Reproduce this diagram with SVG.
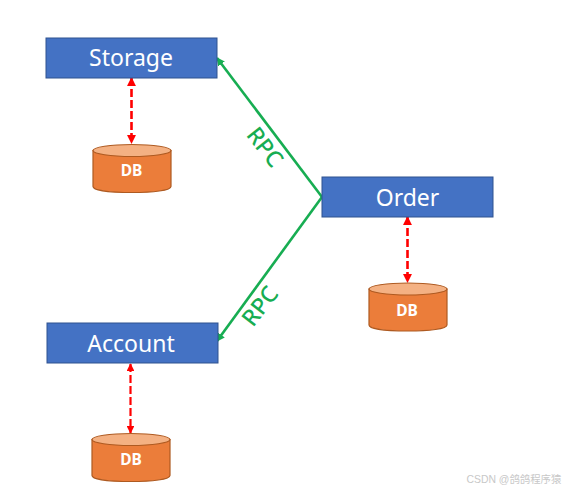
<svg xmlns="http://www.w3.org/2000/svg" width="564" height="490" viewBox="0 0 564 490">
<style>
.box{fill:#4472c4;stroke:#2f528f;stroke-width:1}
.lab{font-family:"Noto Sans","Liberation Sans",sans-serif;font-size:23px;fill:#fff;text-anchor:middle}
.cyl{fill:#eb7d3a;stroke:#ae5a21;stroke-width:1.2}
.top{fill:#f4b183;stroke:#ae5a21;stroke-width:1.2}
.db{font-family:"Noto Sans","Liberation Sans",sans-serif;font-size:15.500px;font-weight:700;fill:#fff;text-anchor:middle}
.red{stroke:#ff0000;stroke-width:2.600;stroke-dasharray:8 3;fill:none;marker-start:url(#r);marker-end:url(#r)}
.thin{stroke-width:2.200}
.grn{stroke:#17ad52;stroke-width:2.600;fill:none;marker-end:url(#g)}
.rpc{font-family:"Noto Sans","Liberation Sans",sans-serif;font-size:23px;font-weight:500;fill:#17ad52;text-anchor:middle}
.mark{font-family:"Liberation Sans","Noto Sans CJK SC",sans-serif;font-size:10.400px;fill:#c8c8c8}
</style>
<defs>
<marker id="r" viewBox="0 0 10 10" refX="9" refY="5" markerWidth="3.600" markerHeight="3.600" orient="auto-start-reverse"><path d="M0 0L10 5L0 10Z" fill="#ff0000"/></marker>
<marker id="g" viewBox="0 0 10 10" refX="9" refY="5" markerWidth="3.200" markerHeight="3.200" orient="auto"><path d="M0 0L10 5L0 10Z" fill="#17ad52"/></marker>
<path id="c" d="M-39 0V36C-39 40 -21 42 0 42S39 40 39 36V0Z" class="cyl"/>
</defs>
<g id="connectors">
<path class="red" d="M131.500 78V143"/>
<path class="red" d="M407.500 217V282"/>
<path class="red thin" d="M130.500 364V433"/>
<path class="grn" d="M322 197L217 58"/>
<path class="grn" d="M322 197L217 341"/>
</g>
<g id="storage"><rect class="box" x="46" y="38" width="171" height="40"/><text class="lab" x="131" y="66">Storage</text></g>
<g id="order"><rect class="box" x="322" y="177" width="171" height="40"/><text class="lab" x="407.500" y="206">Order</text></g>
<g id="account"><rect class="box" x="47" y="323" width="171" height="40"/><text class="lab" x="131" y="352">Account</text></g>
<g id="db1"><use href="#c" x="132" y="150.500"/><ellipse class="top" cx="132" cy="150.500" rx="39" ry="6"/><text class="db" x="131.500" y="176">DB</text></g>
<g id="db2"><use href="#c" x="408" y="289"/><ellipse class="top" cx="408" cy="289" rx="39" ry="6"/><text class="db" x="407" y="316">DB</text></g>
<g id="db3"><use href="#c" x="131" y="439.500"/><ellipse class="top" cx="131" cy="439.500" rx="39" ry="6"/><text class="db" x="131" y="465">DB</text></g>
<text class="rpc" transform="translate(265 147) rotate(52)" y="8">RPC</text>
<text class="rpc" transform="translate(260 306) rotate(-52)" y="8">RPC</text>
<text class="mark" x="466.500" y="483">CSDN @鸽鸽程序猿</text>
</svg>
